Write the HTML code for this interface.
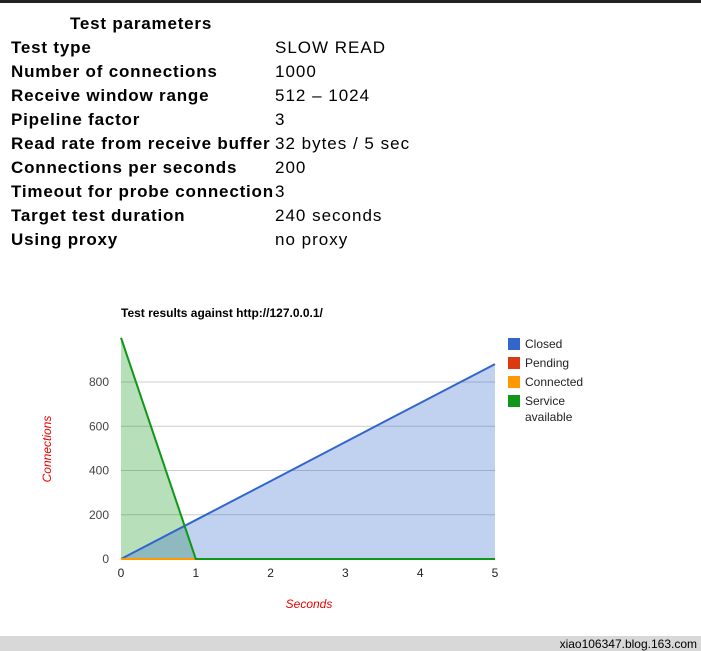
<!DOCTYPE html>
<html><head><meta charset="utf-8"><style>
body{margin:0;width:701px;height:651px;background:#fff;position:relative;overflow:hidden;font-family:"Liberation Sans",sans-serif}
.topbar{position:absolute;left:0;top:0;width:701px;height:3px;background:#222}
.params{position:absolute;left:11px;top:12px;font-weight:bold;font-size:17px;color:#000;letter-spacing:0.8px}
.params div{position:absolute;white-space:nowrap}
.params .v{font-weight:normal;letter-spacing:1px}
.foot{position:absolute;left:0;top:636px;width:701px;height:15px;background:#d8d8d8;font-size:12px;text-align:right}
.foot span{position:absolute;right:4px;top:1px}
</style></head><body>
<div class="topbar"></div>
<div class="params">
<div style="left:59px;top:2px">Test parameters</div>
<div style="left:0;top:26px">Test type</div><div class="v" style="left:264px;top:26px">SLOW READ</div>
<div style="left:0;top:50px">Number of connections</div><div class="v" style="left:264px;top:50px">1000</div>
<div style="left:0;top:74px">Receive window range</div><div class="v" style="left:264px;top:74px">512 – 1024</div>
<div style="left:0;top:98px">Pipeline factor</div><div class="v" style="left:264px;top:98px">3</div>
<div style="left:0;top:122px">Read rate from receive buffer</div><div class="v" style="left:264px;top:122px">32 bytes / 5 sec</div>
<div style="left:0;top:146px">Connections per seconds</div><div class="v" style="left:264px;top:146px">200</div>
<div style="left:0;top:170px">Timeout for probe connection</div><div class="v" style="left:264px;top:170px">3</div>
<div style="left:0;top:194px">Target test duration</div><div class="v" style="left:264px;top:194px">240 seconds</div>
<div style="left:0;top:218px">Using proxy</div><div class="v" style="left:264px;top:218px">no proxy</div>
</div>
<svg id="chart" width="701" height="651" style="position:absolute;left:0;top:0"></svg>
<div class="foot"><span>xiao106347.blog.163.com</span></div>
<script>
const xCats=[0,1,2,3,4,5];
const closed=[0,176,352,529,705,881];
const pending=[0,0,0,0,0,0];
const connected=[0,0,0,0,0,0];
const service=[1000,0,0,0,0,0];
const yTicks=[0,200,400,600,800];
const legendNames=["Closed","Pending","Connected","Service available"];
const svg=document.getElementById('chart');
const NS='http://www.w3.org/2000/svg';
const X=v=>121+v*74.8, Y=v=>559-v*0.22125;
function mk(t,a,txt){const e=document.createElementNS(NS,t);for(const k in a)e.setAttribute(k,a[k]);if(txt!==undefined)e.textContent=txt;svg.appendChild(e);return e;}
let e=mk('text',{x:121,y:317,'font-size':12,'font-weight':'bold',fill:'#000'},'Test results against http://127.0.0.1/');


yTicks.forEach(t=>{
 if(t>0){const g=mk('line',{x1:121,x2:495,y1:Y(t),y2:Y(t),stroke:'#ccc'});
 
 }
 const l=mk('text',{x:109,y:Y(t)+4,'font-size':12,'text-anchor':'end',fill:'#444'},t);
 
 
});
xCats.forEach(c=>{
 const l=mk('text',{x:X(c),y:577,'font-size':12,'text-anchor':'middle',fill:'#222'},c);
 
 
});
const series=[[service,'#109618','service'],[closed,'#3366cc','closed'],[pending,'#dc3912','pending'],[connected,'#ff9900','connected']];
series.forEach(([d,c,n])=>{
 const pts=d.map((v,i)=>X(xCats[i])+','+Y(v)).join(' ');
 const a=mk('polygon',{points:X(xCats[0])+','+Y(0)+' '+pts+' '+X(xCats[xCats.length-1])+','+Y(0),fill:c,'fill-opacity':0.3});
 
 
});
[[closed,'#3366cc','closed'],[pending,'#dc3912','pending'],[connected,'#ff9900','connected'],[service,'#109618','service']].forEach(([d,c,n])=>{
 const pts=d.map((v,i)=>X(xCats[i])+','+Y(v)).join(' ');
 const l=mk('polyline',{points:pts,fill:'none',stroke:c,'stroke-width':2});
 
 
});
const cols=['#3366cc','#dc3912','#ff9900','#109618'];
legendNames.forEach((n,i)=>{
 const y=338+i*19;
 const r=mk('rect',{x:508,y:y,width:12,height:12,fill:cols[i]});
 
 
 const words=n.split(' ');
 const t=mk('text',{x:525,y:y+10,'font-size':12,fill:'#222'},words[0]);
 
 
 if(words[1]){const t2=mk('text',{x:525,y:y+26,'font-size':12,fill:'#222'},words[1]);
 
 }
});
e=mk('text',{x:51,y:449,'font-size':12,'font-style':'italic',fill:'#e00','text-anchor':'middle',transform:'rotate(-90 51 449)'},'Connections');


e=mk('text',{x:309,y:608,'font-size':12,'font-style':'italic',fill:'#e00','text-anchor':'middle'},'Seconds');


</script>
</body></html>
